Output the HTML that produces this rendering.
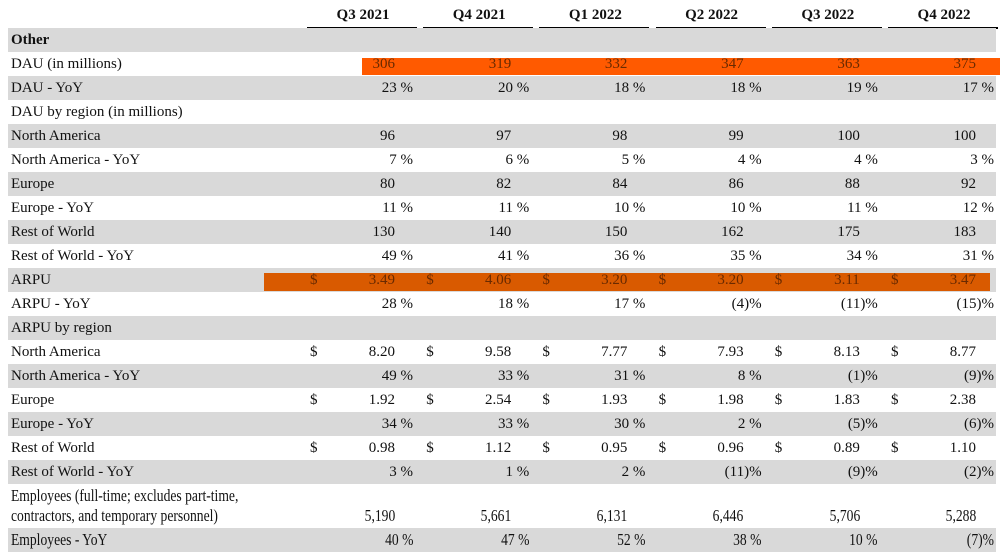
<!DOCTYPE html>
<html><head><meta charset="utf-8">
<style>
body{margin:0;background:#fff;width:1001px;height:558px;overflow:hidden;font-family:"Liberation Serif",serif;font-size:15px;color:#111;}
#t{position:relative;width:1001px;height:558px;}
.band{position:absolute;left:8px;width:988px;background:#d9d9d9;}
.lbl{position:absolute;left:11px;white-space:nowrap;line-height:17px;}
.v{position:absolute;white-space:nowrap;text-align:right;line-height:17px;}
.d{position:absolute;line-height:17px;}
.hd{position:absolute;top:7px;font-weight:bold;text-align:center;width:110px;}
.ul{position:absolute;top:27px;height:2px;background:#000;}
.hl{position:absolute;}
.cond{font-size:17px;transform:scaleX(0.8);transform-origin:right center;}
.condl{font-size:17px;transform:scaleX(0.8);transform-origin:left center;}
</style></head><body>
<div id="t"></div>
<script>
const quarters=["Q3 2021","Q4 2021","Q1 2022","Q2 2022","Q3 2022","Q4 2022"];
const rowLabels=["Other","DAU (in millions)","DAU - YoY","DAU by region (in millions)","North America","North America - YoY","Europe","Europe - YoY","Rest of World","Rest of World - YoY","ARPU","ARPU - YoY","ARPU by region","North America","North America - YoY","Europe","Europe - YoY","Rest of World","Rest of World - YoY","Employees (full-time; excludes part-time,|contractors, and temporary personnel)","Employees - YoY"];
const dau=["306","319","332","347","363","375"];
const dauYoy=["23 %","20 %","18 %","18 %","19 %","17 %"];
const naDau=["96","97","98","99","100","100"];
const naDauYoy=["7 %","6 %","5 %","4 %","4 %","3 %"];
const euDau=["80","82","84","86","88","92"];
const euDauYoy=["11 %","11 %","10 %","10 %","11 %","12 %"];
const rowDau=["130","140","150","162","175","183"];
const rowDauYoy=["49 %","41 %","36 %","35 %","34 %","31 %"];
const arpu=["3.49","4.06","3.20","3.20","3.11","3.47"];
const arpuYoy=["28 %","18 %","17 %","(4)%","(11)%","(15)%"];
const naArpu=["8.20","9.58","7.77","7.93","8.13","8.77"];
const naArpuYoy=["49 %","33 %","31 %","8 %","(1)%","(9)%"];
const euArpu=["1.92","2.54","1.93","1.98","1.83","2.38"];
const euArpuYoy=["34 %","33 %","30 %","2 %","(5)%","(6)%"];
const rwArpu=["0.98","1.12","0.95","0.96","0.89","1.10"];
const rwArpuYoy=["3 %","1 %","2 %","(11)%","(9)%","(2)%"];
const emp=["5,190","5,661","6,131","6,446","5,706","5,288"];
const empYoy=["40 %","47 %","52 %","38 %","10 %","(7)%"];
const rowValues=[null,dau,dauYoy,null,naDau,naDauYoy,euDau,euDauYoy,rowDau,rowDauYoy,arpu,arpuYoy,null,naArpu,naArpuYoy,euArpu,euArpuYoy,rwArpu,rwArpuYoy,emp,empYoy];
const dollarRows=[10,13,15,17];
const grayRows=[0,2,4,6,8,10,12,14,16,18,20];
const t=document.getElementById('t');
function colRight(i){return 413+116.2*i;}
function mk(cls,txt){const e=document.createElement('div');e.className=cls;if(txt!==undefined)e.textContent=txt;t.appendChild(e);return e;}
quarters.forEach((q,i)=>{
  const h=mk('hd',q);h.style.left=(colRight(i)-105)+'px';
  
  
  const u=mk('ul');u.style.left=(colRight(i)-106)+'px';u.style.width='110px';
  
  
});
function rowY(r){if(r<19)return 28+24*r;if(r===19)return 484;return 528;}
function rowHt(r){return r===19?44:24;}
rowLabels.forEach((lab,r)=>{
  const y=rowY(r),h=rowHt(r);
  if(grayRows.includes(r)){const b=mk('band');b.style.top=y+'px';b.style.height=h+'px';
    
    }
  if(r===1||r===10){
    const hl=mk('hl');
    if(r===1){hl.style.left='362px';hl.style.width='638px';hl.style.top='58px';hl.style.height='17px';hl.style.background='#ff5a00';}
    else{hl.style.left='264px';hl.style.width='726px';hl.style.top='273px';hl.style.height='18px';hl.style.background='#d95a00';}
    
    
  }
  const cond=r>=19;
  const parts=lab.split('|');
  parts.forEach((p,k)=>{
    const l=mk('lbl'+(cond?' condl':''),p);
    l.style.top=(r===19?(487+20*k):(cond?y+3:y+4))+'px';
    if(r===0)l.style.fontWeight='bold';
    
    
  });
  const vals=rowValues[r];if(!vals)return;
  const vy=r===19?507:(cond?y+3:y+4);
  vals.forEach((v,i)=>{
    const hasPct=v.indexOf('%')>=0;
    const right=hasPct?colRight(i):colRight(i)-18;
    const e=mk('v'+(cond?' cond':''),v);
    e.style.top=vy+'px';e.style.right=(1001-right)+'px';
    if(r===1||r===10)e.style.color='#6a2a00';
    
    
    if(dollarRows.includes(r)){
      const d=mk('d','$');d.style.top=vy+'px';d.style.left=(colRight(i)-103)+'px';
      if(r===10)d.style.color='#6a2a00';
      
      
    }
  });
});
</script>
</body></html>
